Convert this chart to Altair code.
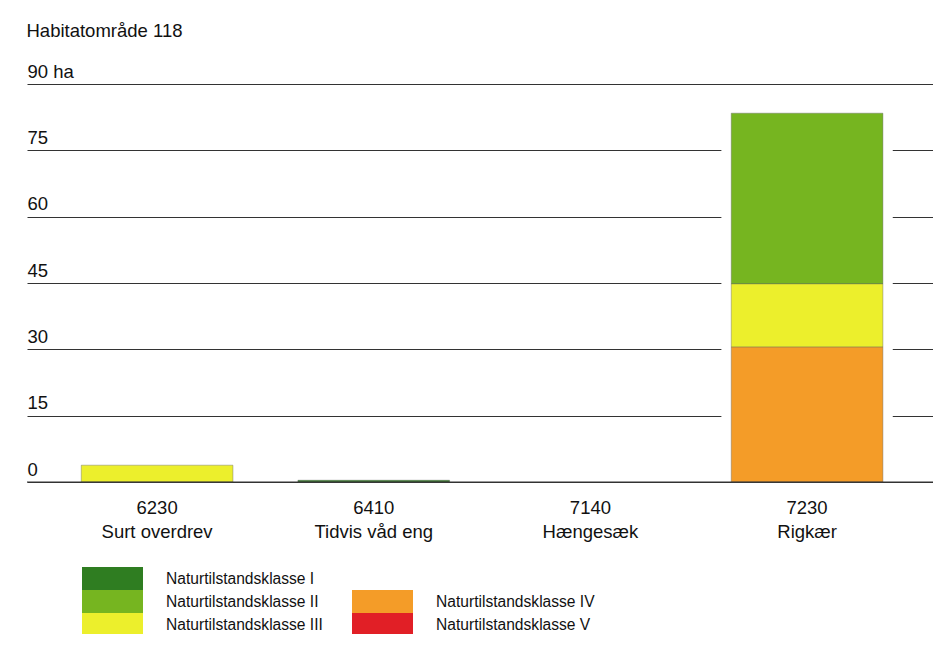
import altair as alt
import pandas as pd

codes = ["6230", "6410", "7140", "7230"]
names = ["Surt overdrev", "Tidvis våd eng", "Hængesæk", "Rigkær"]
classes = ["Naturtilstandsklasse I", "Naturtilstandsklasse II", "Naturtilstandsklasse III",
           "Naturtilstandsklasse IV", "Naturtilstandsklasse V"]
colors = ["#2f7d21", "#76b520", "#ecef2c", "#f49c28", "#e11f26"]
# hectares per habitat (in order of codes) for each class
klasse_I = [0, 0.4, 0, 0]
klasse_II = [0, 0, 0, 38.6]
klasse_III = [3.8, 0, 0, 14.3]
klasse_IV = [0, 0, 0, 30.5]
klasse_V = [0, 0, 0, 0]
y_ticks = [0, 15, 30, 45, 60, 75, 90]

series = [klasse_I, klasse_II, klasse_III, klasse_IV, klasse_V]
labels = [f"{c}|{n}" for c, n in zip(codes, names)]
rows = []
for k, vals in zip(classes, series):
    for lab, v in zip(labels, vals):
        rows.append({"habitat": lab, "klasse": k, "ha": v})
df = pd.DataFrame(rows)

BLANK = " "
legend_domain = [classes[0], classes[1], classes[2], BLANK, classes[3], classes[4]]
legend_range = [colors[0], colors[1], colors[2], "#ffffff", colors[3], colors[4]]

FONT = "Liberation Sans"
FS = 18.5

xscale = alt.Scale(paddingInner=0.3, paddingOuter=0.2408, align=0.52)
xenc = alt.X("habitat:N", sort=labels, scale=xscale,
             axis=alt.Axis(title=None, labelExpr="split(datum.value, '|')", labelAngle=0,
                           ticks=False, domain=False, labelPadding=16, labelFontSize=FS,
                           labelLineHeight=24, labelColor="#111", labelFont=FONT))
yscale = alt.Scale(domain=[0, 90], nice=False)
yaxis = alt.Axis(title=None, values=y_ticks, labelExpr="datum.value == 90 ? '90 ha' : datum.label",
                 ticks=False, tickSize=0, domain=False, labelAlign="left", labelBaseline="alphabetic",
                 labelPadding=0, labelOffset=-7, labelFontSize=FS, labelColor="#111", labelFont=FONT,
                 grid=True, gridColor="#333", gridWidth=1, gridOpacity=1)

white = alt.Chart(df).transform_aggregate(
    total="sum(ha)", groupby=["habitat"]
).mark_bar(color="white", width={"band": 1.13}).encode(
    x=xenc,
    y=alt.Y("total:Q", scale=yscale, axis=yaxis),
)

bars = alt.Chart(df).transform_filter("datum.ha > 0").transform_calculate(
    rank="indexof(['Naturtilstandsklasse V','Naturtilstandsklasse IV','Naturtilstandsklasse III','Naturtilstandsklasse II','Naturtilstandsklasse I'], datum.klasse)"
).mark_bar(stroke="#666", strokeWidth=0.6, strokeOpacity=0.7, opacity=1).encode(
    x=xenc,
    y=alt.Y("ha:Q", stack="zero", scale=yscale, axis=yaxis),
    color=alt.Color("klasse:N", scale=alt.Scale(domain=legend_domain, range=legend_range),
                    legend=alt.Legend(
                        orient="none", legendX=55, legendY=483, columns=2, title=None,
                        direction="vertical",
                        symbolType="M-1,-0.377H1V0.377H-1Z", symbolSize=3721, clipHeight=23,
                        symbolStrokeWidth=0, symbolOpacity=1, rowPadding=0, columnPadding=29,
                        labelOffset=23, labelFontSize=15.6, labelFont=FONT, labelColor="#111",
                        gridAlign="each", labelLimit=300)),
    order=alt.Order("rank:Q"),
)

base = alt.Chart(pd.DataFrame({"baseline": [0]})).mark_rule(color="#333", strokeWidth=1).encode(
    y=alt.Y("baseline:Q", scale=yscale)
)

chart = alt.layer(white, bars, base).properties(
    width=906, height=398,
    title=alt.TitleParams("Habitatområde 118", anchor="start", fontSize=FS, font=FONT,
                          fontWeight="normal", color="#111", baseline="alphabetic", offset=7),
    autosize=alt.AutoSizeParams(type="none"),
    padding={"left": 19, "top": 76, "right": 0, "bottom": 152},
).configure_view(strokeWidth=0)

chart.save("out.html", embed_options={"renderer": "svg", "actions": False})
